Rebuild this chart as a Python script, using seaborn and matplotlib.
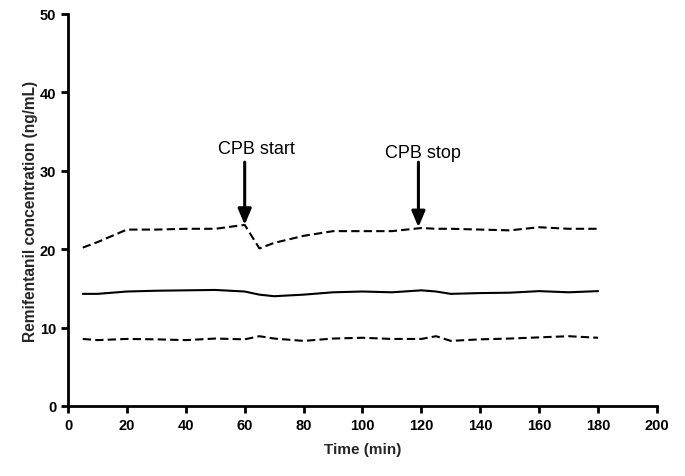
import pandas as pd
import seaborn as sns
import matplotlib.pyplot as plt

# Remifentanil concentration over time: mean and upper/lower bounds
times = [5, 10, 20, 30, 40, 50, 60, 65, 70, 80, 90, 100, 110, 120, 125, 130, 140, 150, 160, 170, 180]
upper = [20.2, 20.9, 22.5, 22.5, 22.6, 22.6, 23.1, 20.1, 20.8, 21.7, 22.3, 22.3, 22.3, 22.7, 22.6, 22.6, 22.5, 22.4, 22.8, 22.6, 22.6]
mean = [14.3, 14.3, 14.6, 14.7, 14.75, 14.8, 14.6, 14.2, 14.0, 14.2, 14.5, 14.6, 14.5, 14.75, 14.6, 14.3, 14.4, 14.45, 14.65, 14.5, 14.65]
lower = [8.55, 8.4, 8.55, 8.5, 8.4, 8.6, 8.5, 8.9, 8.6, 8.3, 8.6, 8.7, 8.55, 8.55, 8.9, 8.3, 8.5, 8.6, 8.75, 8.9, 8.7]

events = ['CPB start', 'CPB stop']
event_times = [60, 119]
event_tips = [23.1, 22.8]

df = pd.concat([
    pd.DataFrame({'time': times, 'conc': upper, 'series': 'upper'}),
    pd.DataFrame({'time': times, 'conc': mean, 'series': 'mean'}),
    pd.DataFrame({'time': times, 'conc': lower, 'series': 'lower'}),
])

sns.set_theme(style="ticks")
plt.rcParams['font.family'] = ['Liberation Sans', 'DejaVu Sans']

fig = plt.figure(figsize=(6.85, 4.77), dpi=100)
ax = fig.add_axes([0.0993, 0.1468, 0.8597, 0.8218])

sns.lineplot(data=df, x='time', y='conc', hue='series', style='series',
             palette={'upper': 'black', 'mean': 'black', 'lower': 'black'},
             dashes={'upper': (4, 2), 'mean': '', 'lower': (4, 2)},
             linewidth=1.5, legend=False, ax=ax)

# vertical arrows with labels above
label_offsets = [(4, 32.8), (1.4, 32.3)]
for name, t, tip, (dx, ty) in zip(events, event_times, event_tips, label_offsets):
    ax.annotate('', xy=(t, tip), xytext=(t, 31.1),
                arrowprops=dict(arrowstyle='-|>,head_length=0.95,head_width=0.4',
                                mutation_scale=10, color='black', lw=2.2,
                                shrinkA=0, shrinkB=0))
    ax.text(t + dx, ty, name, ha='center', va='center', fontsize=13, color='black')

ax.set_xlim(0, 200)
ax.set_ylim(0, 50)
ax.set_xticks(range(0, 201, 20))
ax.set_yticks(range(0, 51, 10))
ax.set_xlabel('Time (min)', fontsize=11, fontweight='bold', labelpad=7)
ax.set_ylabel('Remifentanil concentration (ng/mL)', fontsize=11.2, fontweight='bold', labelpad=1)
ax.tick_params(width=2, length=5, labelsize=10.5, color='black', labelcolor='black')
for lbl in ax.get_xticklabels() + ax.get_yticklabels():
    lbl.set_fontweight('bold')
for s in ['left', 'bottom']:
    ax.spines[s].set_linewidth(2)
    ax.spines[s].set_color('black')
sns.despine(ax=ax)

fig.savefig('out.png', dpi=100)
